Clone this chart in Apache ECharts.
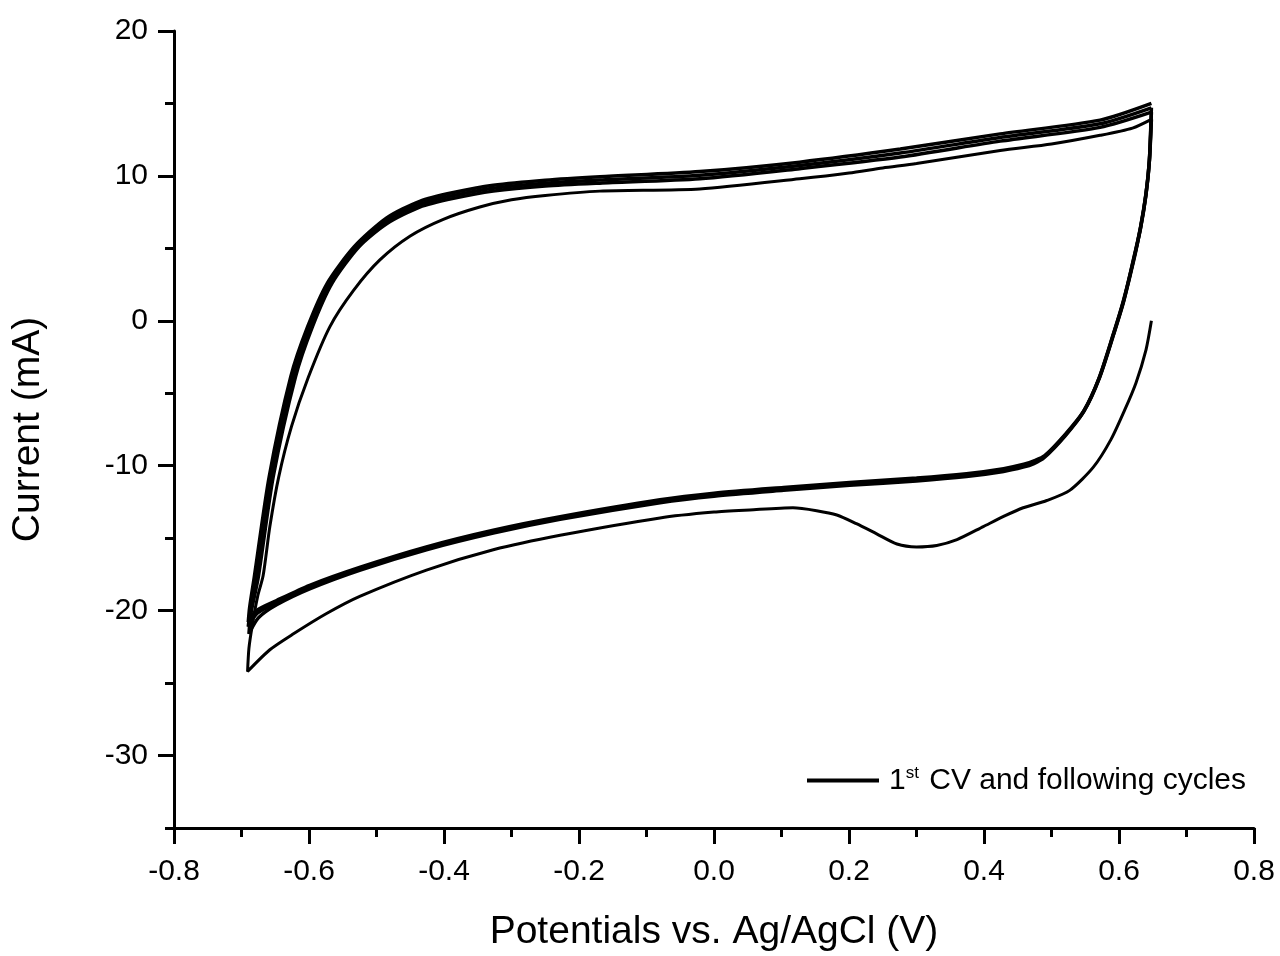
<!DOCTYPE html>
<html>
<head>
<meta charset="utf-8">
<script src="https://cdn.jsdelivr.net/npm/echarts@6/dist/echarts.min.js"></script>
<style>
  html, body { margin: 0; padding: 0; background: #fff; }
  #cv { width: 1280px; height: 956px; }
</style>
</head>
<body>
<div id="cv"></div>
<script>
// potential (V) vs current (mA), in sweep order
var cycle1 = [
  [0.648, 0.0], [0.640, -2.0], [0.625, -4.3], [0.608, -6.2], [0.588, -8.2],
  [0.562, -10.1], [0.527, -11.7], [0.493, -12.4], [0.458, -12.9], [0.429, -13.5],
  [0.399, -14.2], [0.360, -15.1], [0.330, -15.5], [0.300, -15.6], [0.271, -15.4],
  [0.241, -14.7], [0.211, -14.0], [0.182, -13.4], [0.152, -13.1], [0.117, -12.9],
  [0.053, -13.05], [0.0, -13.2], [-0.08, -13.6], [-0.228, -14.8], [-0.327, -15.8],
  [-0.426, -17.2], [-0.524, -19.0], [-0.574, -20.2], [-0.623, -21.6], [-0.658, -22.7],
  [-0.691, -24.2],
  [-0.689, -22.6], [-0.684, -21.0], [-0.676, -19.0], [-0.668, -17.6], [-0.658, -14.2],
  [-0.645, -10.8], [-0.626, -7.3], [-0.601, -3.9], [-0.569, -0.4], [-0.534, 2.1],
  [-0.495, 4.2], [-0.450, 5.85], [-0.401, 7.0], [-0.347, 7.85], [-0.3, 8.35],
  [-0.25, 8.65], [-0.169, 8.95], [-0.021, 9.1], [0.127, 9.8], [0.2, 10.2],
  [0.25, 10.55], [0.3, 10.85], [0.424, 11.75], [0.5, 12.2], [0.572, 12.8],
  [0.62, 13.3], [0.648, 13.9]
];

var cycle2 = [
  [0.648, 13.9], [0.645, 11.0], [0.640, 8.7], [0.632, 6.4], [0.621, 4.1],
  [0.606, 1.3], [0.591, -1.0], [0.570, -4.0], [0.547, -6.3], [0.520, -7.95],
  [0.489, -9.45], [0.474, -9.85], [0.458, -10.1], [0.429, -10.4], [0.374, -10.75],
  [0.300, -11.05], [0.201, -11.35], [0.103, -11.7], [0.0, -12.1], [-0.08, -12.55],
  [-0.228, -13.7], [-0.327, -14.65], [-0.426, -15.8], [-0.524, -17.2], [-0.599, -18.5],
  [-0.648, -19.6], [-0.675, -20.5], [-0.689, -21.6],
  [-0.686, -20.2], [-0.675, -17.66], [-0.653, -10.76], [-0.620, -3.86], [-0.595, -0.41],
  [-0.566, 2.59], [-0.526, 5.11], [-0.485, 6.7], [-0.436, 7.85], [-0.386, 8.45],
  [-0.327, 8.95], [-0.25, 9.3], [-0.169, 9.5], [-0.021, 9.8], [0.127, 10.5],
  [0.276, 11.3], [0.424, 12.4], [0.572, 13.35], [0.648, 14.4]
];

var cycle3 = [
  [0.648, 14.4], [0.645, 11.05], [0.640, 8.75], [0.632, 6.45], [0.621, 4.15],
  [0.607, 1.35], [0.592, -0.95], [0.571, -3.95], [0.548, -6.25], [0.521, -7.85],
  [0.490, -9.35], [0.475, -9.75], [0.459, -10.0], [0.429, -10.3], [0.374, -10.65],
  [0.300, -10.95], [0.201, -11.25], [0.103, -11.6], [0.0, -12.0], [-0.08, -12.45],
  [-0.228, -13.62], [-0.327, -14.55], [-0.426, -15.7], [-0.524, -17.1], [-0.599, -18.35],
  [-0.648, -19.45], [-0.677, -20.2], [-0.690, -21.1],
  [-0.687, -20.0], [-0.678, -17.66], [-0.656, -10.76], [-0.623, -3.86], [-0.598, -0.41],
  [-0.569, 2.59], [-0.529, 5.11], [-0.485, 6.9], [-0.436, 8.05], [-0.386, 8.65],
  [-0.327, 9.15], [-0.25, 9.5], [-0.169, 9.72], [-0.021, 10.05], [0.127, 10.72],
  [0.276, 11.58], [0.424, 12.65], [0.572, 13.6], [0.648, 14.7]
];

var cycle4 = [
  [0.648, 14.7], [0.645, 11.1], [0.640, 8.8], [0.632, 6.5], [0.622, 4.2],
  [0.607, 1.4], [0.592, -0.9], [0.571, -3.9], [0.548, -6.2], [0.521, -7.8],
  [0.490, -9.3], [0.475, -9.65], [0.459, -9.9], [0.429, -10.2], [0.374, -10.55],
  [0.300, -10.85], [0.201, -11.15], [0.103, -11.5], [0.0, -11.9], [-0.08, -12.35],
  [-0.228, -13.52], [-0.327, -14.45], [-0.426, -15.6], [-0.524, -17.0], [-0.599, -18.25],
  [-0.648, -19.3], [-0.678, -20.0], [-0.690, -20.8],
  [-0.688, -19.8], [-0.681, -17.66], [-0.659, -10.76], [-0.627, -3.86], [-0.602, -0.41],
  [-0.573, 2.59], [-0.533, 5.11], [-0.485, 7.1], [-0.436, 8.25], [-0.386, 8.85],
  [-0.327, 9.35], [-0.25, 9.7], [-0.169, 9.94], [-0.021, 10.3], [0.127, 10.95],
  [0.276, 11.85], [0.424, 12.9], [0.572, 13.85], [0.648, 15.0]
];

var cycles = [cycle1, cycle2, cycle3, cycle4];
var yMajorTicks = [-30, -20, -10, 0, 10, 20];
var seriesName = 'CV';

var font = 'Liberation Sans, Arial, sans-serif';
var chartDom = document.getElementById('cv');
var myChart = echarts.init(chartDom);
var option;

option = {
  animation: false,
  backgroundColor: '#fff',
  grid: {
    left: 174,
    right: 26,
    top: 31,
    bottom: 128,
    containLabel: false,
    outerBoundsMode: 'none'
  },
  legend: {
    data: [seriesName],
    left: 802,
    top: 760,
    icon: 'rect',
    itemWidth: 72,
    itemHeight: 4,
    itemStyle: { color: '#000' },
    formatter: function () {
      return '1{sup|st} CV and following cycles';
    },
    textStyle: {
      fontFamily: font,
      fontSize: 30,
      color: '#000',
      padding: [0, 0, 0, 5],
      rich: {
        sup: { fontFamily: font, fontSize: 17, color: '#000', padding: [0, 2, 14, 0] }
      }
    }
  },
  xAxis: {
    type: 'value',
    min: -0.8,
    max: 0.8,
    interval: 0.2,
    name: 'Potentials vs. Ag/AgCl (V)',
    nameLocation: 'middle',
    nameGap: 85,
    nameTextStyle: { fontFamily: font, fontSize: 39, color: '#000' },
    axisLine: { onZero: false, lineStyle: { color: '#000', width: 3 } },
    axisTick: { inside: false, length: 16, lineStyle: { color: '#000', width: 3 } },
    minorTick: { show: true, splitNumber: 2, length: 9, lineStyle: { color: '#000', width: 3 } },
    splitLine: { show: false },
    axisLabel: {
      margin: 29,
      fontFamily: font,
      fontSize: 30,
      color: '#000',
      formatter: function (v) { return v.toFixed(1); }
    }
  },
  yAxis: [
    {
      type: 'value',
      min: -35,
      max: 20,
      interval: 5,
      name: 'Current (mA)',
      nameLocation: 'middle',
      nameGap: 126,
      nameTextStyle: { fontFamily: font, fontSize: 39, color: '#000' },
      axisLine: { show: true, onZero: false, lineStyle: { color: '#000', width: 3 } },
      axisTick: { customValues: yMajorTicks, length: 16, lineStyle: { color: '#000', width: 3 } },
      splitLine: { show: false },
      axisLabel: {
        customValues: yMajorTicks,
        margin: 26,
        fontFamily: font,
        fontSize: 30,
        color: '#000'
      }
    },
    {
      // minor ticks every 5 mA
      type: 'value',
      position: 'left',
      offset: 0,
      min: -35,
      max: 20,
      interval: 5,
      axisLine: { show: false, onZero: false },
      axisTick: { show: true, length: 9, lineStyle: { color: '#000', width: 3 } },
      axisLabel: { show: false },
      splitLine: { show: false }
    }
  ],
  series: cycles.map(function (c, i) {
    return {
      name: seriesName,
      type: 'line',
      data: c,
      symbol: 'none',
      smooth: 0.25,
      lineStyle: { color: '#000', width: i === 0 ? 3 : 3.5 },
      itemStyle: { color: '#000' }
    };
  })
};
myChart.setOption(option);
</script>
</body>
</html>
